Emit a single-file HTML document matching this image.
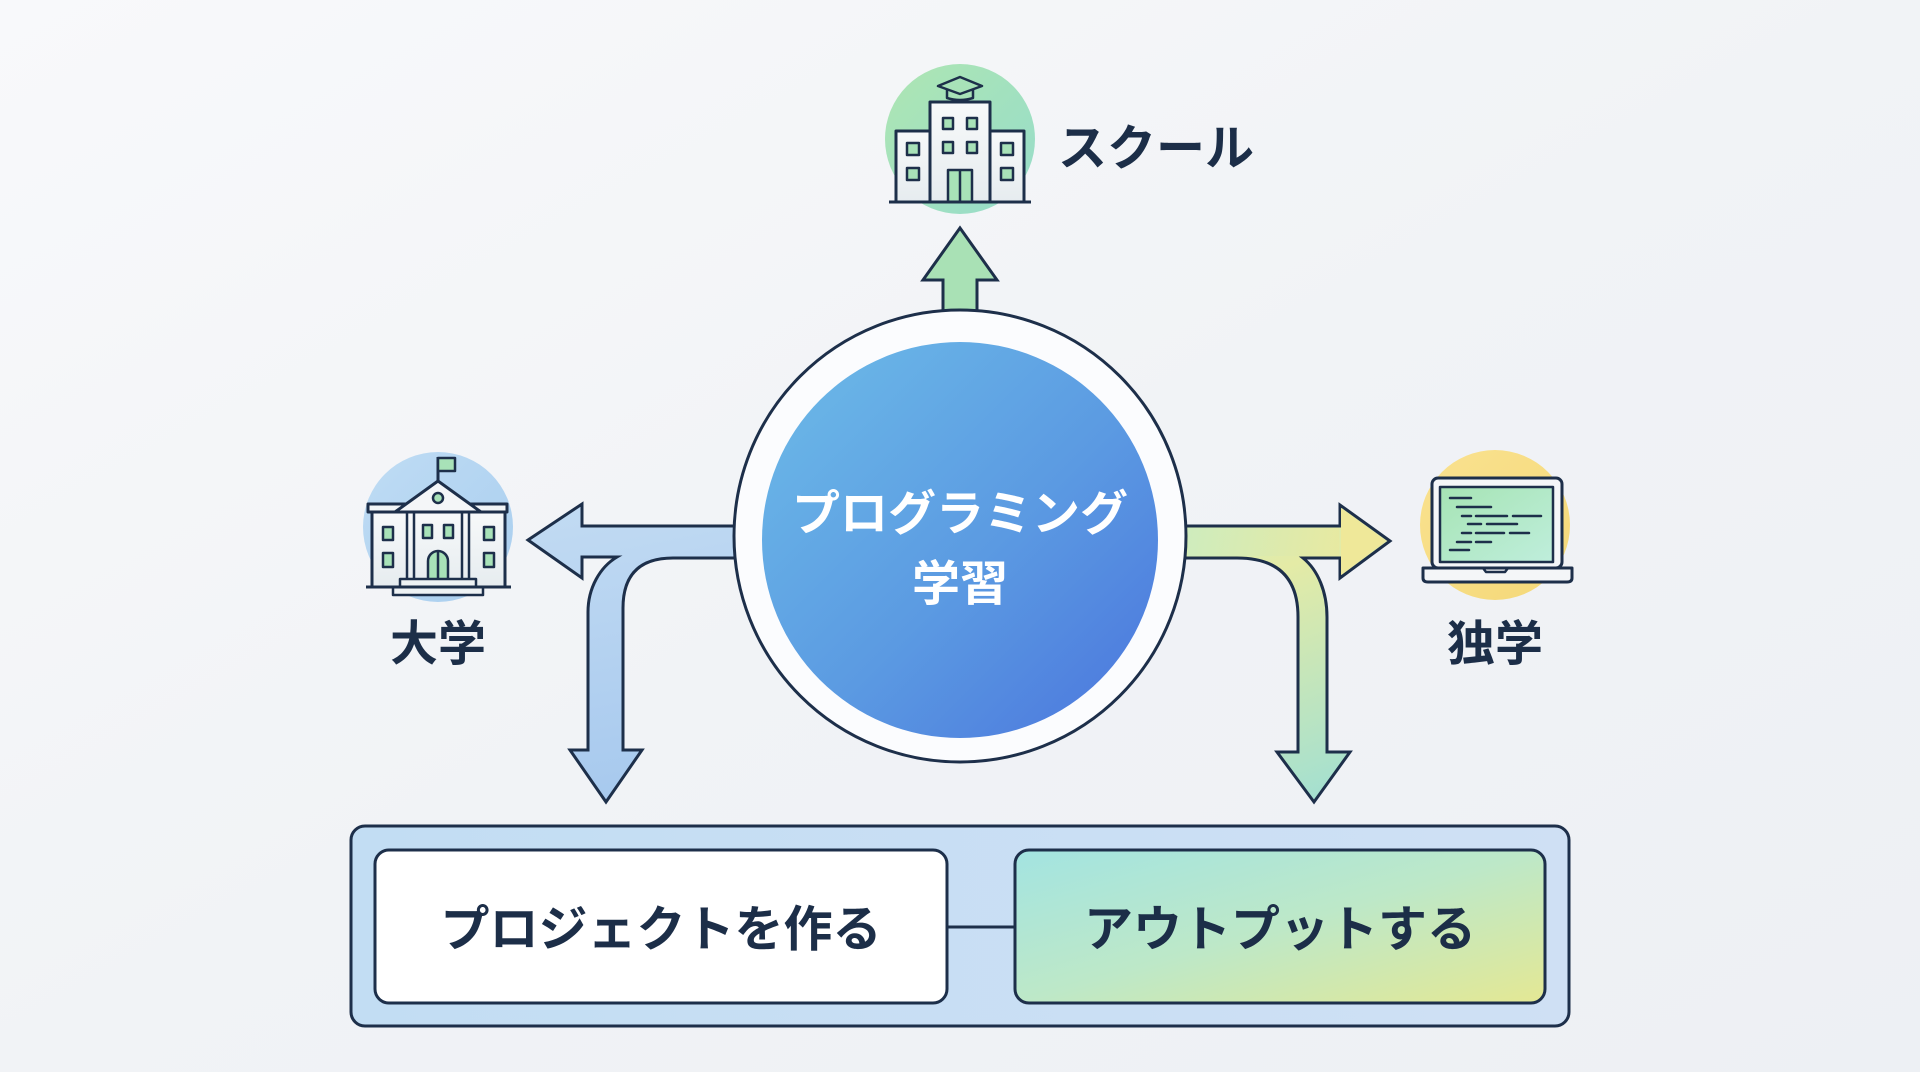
<!DOCTYPE html>
<html><head><meta charset="utf-8">
<style>
html,body{margin:0;padding:0;width:1920px;height:1072px;overflow:hidden;background:#f1f3f6;}
svg{display:block;}
text{font-family:"Liberation Sans","Noto Sans CJK JP",sans-serif;font-weight:700;}
</style></head>
<body>
<svg width="1920" height="1072" viewBox="0 0 1920 1072" xmlns="http://www.w3.org/2000/svg">
<defs>
<linearGradient id="bg" x1="0" y1="0" x2="1" y2="1">
<stop offset="0" stop-color="#f8f9fb"/><stop offset="0.5" stop-color="#f1f3f6"/><stop offset="1" stop-color="#edf0f4"/>
</linearGradient>
<linearGradient id="blue" x1="0" y1="0" x2="1" y2="1">
<stop offset="0" stop-color="#6dbce8"/><stop offset="0.55" stop-color="#5b9ae2"/><stop offset="1" stop-color="#4a74dd"/>
</linearGradient>
<linearGradient id="larr" gradientUnits="userSpaceOnUse" x1="560" y1="500" x2="620" y2="800">
<stop offset="0" stop-color="#c2dbf3"/><stop offset="1" stop-color="#a7c9ee"/>
</linearGradient>
<linearGradient id="rarr" gradientUnits="userSpaceOnUse" x1="1200" y1="520" x2="1314" y2="800">
<stop offset="0" stop-color="#d3edb8"/><stop offset="0.25" stop-color="#e4eba6"/><stop offset="1" stop-color="#a4e0d0"/>
</linearGradient>
<linearGradient id="rarrh" gradientUnits="userSpaceOnUse" x1="1185" y1="540" x2="1390" y2="540">
<stop offset="0" stop-color="#cdecbf"/><stop offset="1" stop-color="#f0e897"/>
</linearGradient>
<linearGradient id="schoolc" x1="0" y1="0" x2="1" y2="1">
<stop offset="0" stop-color="#aee6b2"/><stop offset="1" stop-color="#96dccb"/>
</linearGradient>
<linearGradient id="univc" x1="0" y1="0" x2="1" y2="1">
<stop offset="0" stop-color="#bfdcf4"/><stop offset="1" stop-color="#a9ceef"/>
</linearGradient>
<linearGradient id="lapc" x1="0" y1="0" x2="1" y2="1">
<stop offset="0" stop-color="#fae290"/><stop offset="1" stop-color="#f4d878"/>
</linearGradient>
<linearGradient id="screen" x1="0" y1="0" x2="1" y2="1">
<stop offset="0" stop-color="#a6e4b4"/><stop offset="1" stop-color="#bfeedc"/>
</linearGradient>
<linearGradient id="outer" x1="0" y1="0" x2="1" y2="0">
<stop offset="0" stop-color="#c2ddf3"/><stop offset="1" stop-color="#cfe0f4"/>
</linearGradient>
<linearGradient id="outbox" x1="0" y1="0" x2="1" y2="1">
<stop offset="0" stop-color="#a3e4e1"/><stop offset="0.5" stop-color="#bde8c8"/><stop offset="1" stop-color="#e4e894"/>
</linearGradient>
<linearGradient id="bld" x1="0" y1="0" x2="0" y2="1">
<stop offset="0" stop-color="#f7f9fa"/><stop offset="1" stop-color="#e6ecef"/>
</linearGradient>
</defs>

<rect x="0" y="0" width="1920" height="1072" fill="url(#bg)"/>

<!-- Left arrow -->
<path d="M528,540 L582,504 L582,526 L745,526 L745,558 L673,558 Q623,558 623,608 L623,750 L642,750 L606,802 L570,750 L588,750 L588,612 C588,588 600,567 617,557 L582,557 L582,578 Z" fill="url(#larr)" stroke="#1d2f4a" stroke-width="3" stroke-linejoin="miter"/>

<!-- Right arrow -->
<path d="M1390,541 L1340,505 L1340,526 L1175,526 L1175,558 L1237,558 Q1298,558 1298,617 L1298,752 L1277,752 L1314,802 L1350,752 L1327,752 L1327,617 C1327,592 1318,570 1303,558 L1340,558 L1340,578 Z" fill="url(#rarr)" stroke="#1d2f4a" stroke-width="3"/>
<path d="M1188,528 L1339,528 L1339,556 L1303,556 L1250,556 L1188,556 Z" fill="url(#rarrh)" opacity="0.85"/>
<path d="M1341,508 L1386,541 L1341,575 Z" fill="#efe899"/>

<!-- Top arrow -->
<path d="M960,228 L997,280 L977,280 L977,318 L943,318 L943,280 L923,280 Z" fill="#a9e1b5" stroke="#1d2f4a" stroke-width="3"/>

<!-- Central circle -->
<circle cx="960" cy="536" r="226" fill="#fbfcfe" stroke="#1d2f4a" stroke-width="3"/>
<circle cx="960" cy="540" r="198" fill="url(#blue)"/>
<text x="960" y="530" font-size="48" fill="#ffffff" text-anchor="middle">プログラミング</text>
<text x="960" y="600" font-size="48" fill="#ffffff" text-anchor="middle">学習</text>

<!-- School icon -->
<circle cx="960" cy="139" r="75" fill="url(#schoolc)"/>
<g stroke="#1d2f4a" stroke-width="3" stroke-linejoin="round">
<rect x="896" y="131" width="34" height="71" fill="url(#bld)"/>
<rect x="990" y="131" width="34" height="71" fill="url(#bld)"/>
<rect x="930" y="102" width="60" height="100" fill="url(#bld)"/>
<g fill="#a8e2b8" stroke-width="2.5">
<rect x="943" y="118" width="10" height="11"/><rect x="967" y="118" width="10" height="11"/>
<rect x="943" y="142" width="10" height="11"/><rect x="967" y="142" width="10" height="11"/>
<rect x="907" y="143" width="12" height="12"/><rect x="907" y="168" width="12" height="12"/>
<rect x="1001" y="143" width="12" height="12"/><rect x="1001" y="168" width="12" height="12"/>
<rect x="948" y="170" width="24" height="32"/>
</g>
<line x1="960" y1="170" x2="960" y2="202" stroke-width="2.5"/>
<line x1="889" y1="202" x2="1031" y2="202"/>
<path d="M947,89 L947,98 Q960,102 973,98 L973,89" fill="#a8e2b8" stroke-width="2.5"/>
<path d="M960,77 L982,86 L960,94 L938,86 Z" fill="#a8e2b8" stroke-width="2.5"/>
</g>
<text x="1058" y="165" font-size="49" fill="#1c2e48">スクール</text>

<!-- University icon -->
<circle cx="438" cy="527" r="75" fill="url(#univc)"/>
<g stroke="#1d2f4a" stroke-width="3" stroke-linejoin="round">
<line x1="438" y1="482" x2="438" y2="457"/>
<rect x="438" y="458" width="17" height="13" fill="#a8e2b8" stroke-width="2.5"/>
<rect x="372" y="512" width="133" height="75" fill="url(#bld)"/>
<rect x="368" y="504" width="139" height="8" fill="#f2f5f7"/>
<path d="M395,512 L438,481 L481,512 Z" fill="#f4f6f8"/>
<circle cx="438" cy="498" r="5" fill="#a8e2b8" stroke-width="2.5"/>
<g stroke-width="2.5">
<line x1="407" y1="512" x2="407" y2="580"/><line x1="414" y1="512" x2="414" y2="580"/>
<line x1="462" y1="512" x2="462" y2="580"/><line x1="469" y1="512" x2="469" y2="580"/>
</g>
<g fill="#a8e2b8" stroke-width="2.5">
<rect x="383" y="527" width="10" height="13"/><rect x="383" y="553" width="10" height="14"/>
<rect x="484" y="527" width="10" height="13"/><rect x="484" y="553" width="10" height="14"/>
<rect x="423" y="525" width="9" height="13"/><rect x="444" y="525" width="9" height="13"/>
<path d="M428,580 L428,561 A10,10 0 0 1 448,561 L448,580 Z"/>
</g>
<line x1="438" y1="552" x2="438" y2="580" stroke-width="2.5"/>
<rect x="400" y="579" width="76" height="8" fill="#eef2f4" stroke-width="2.5"/>
<rect x="393" y="587" width="90" height="8" fill="#eef2f4" stroke-width="2.5"/>
<line x1="366" y1="587" x2="511" y2="587"/>
</g>
<text x="438" y="660" font-size="48" fill="#1c2e48" text-anchor="middle">大学</text>

<!-- Laptop icon -->
<circle cx="1495" cy="525" r="75" fill="url(#lapc)"/>
<g stroke="#1d2f4a" stroke-width="3" stroke-linejoin="round">
<rect x="1432" y="478" width="130" height="90" rx="6" fill="#f4f6f8"/>
<rect x="1440" y="487" width="113" height="75" fill="url(#screen)" stroke-width="2.5"/>
<path d="M1423,568 L1572,568 L1572,578 Q1572,582 1567,582 L1428,582 Q1423,582 1423,578 Z" fill="#f4f6f8"/>
<path d="M1483,568 L1486,572 L1505,572 L1508,568" fill="none" stroke-width="2.5"/>
</g>
<g stroke="#1d2f4a" stroke-width="2.5" stroke-linecap="round">
<line x1="1450" y1="498" x2="1471" y2="498"/>
<line x1="1457" y1="507" x2="1491" y2="507"/>
<line x1="1462" y1="516" x2="1471" y2="516"/><line x1="1476" y1="516" x2="1507" y2="516"/><line x1="1513" y1="516" x2="1541" y2="516"/>
<line x1="1468" y1="524" x2="1481" y2="524"/><line x1="1487" y1="524" x2="1517" y2="524"/>
<line x1="1462" y1="533" x2="1471" y2="533"/><line x1="1476" y1="533" x2="1504" y2="533"/><line x1="1510" y1="533" x2="1529" y2="533"/>
<line x1="1457" y1="542" x2="1471" y2="542"/><line x1="1476" y1="542" x2="1491" y2="542"/>
<line x1="1450" y1="550" x2="1469" y2="550"/>
</g>
<text x="1495" y="660" font-size="48" fill="#1c2e48" text-anchor="middle">独学</text>

<!-- Bottom boxes -->
<rect x="351" y="826" width="1218" height="200" rx="14" fill="url(#outer)" stroke="#1d2f4a" stroke-width="3"/>
<line x1="947" y1="927" x2="1015" y2="927" stroke="#1d2f4a" stroke-width="3"/>
<rect x="375" y="850" width="572" height="153" rx="14" fill="#ffffff" stroke="#1d2f4a" stroke-width="3"/>
<rect x="1015" y="850" width="530" height="153" rx="14" fill="url(#outbox)" stroke="#1d2f4a" stroke-width="3"/>
<text x="661" y="946" font-size="49" fill="#1c2e48" text-anchor="middle">プロジェクトを作る</text>
<text x="1280" y="946" font-size="49" fill="#1c2e48" text-anchor="middle">アウトプットする</text>
</svg>
</body></html>
